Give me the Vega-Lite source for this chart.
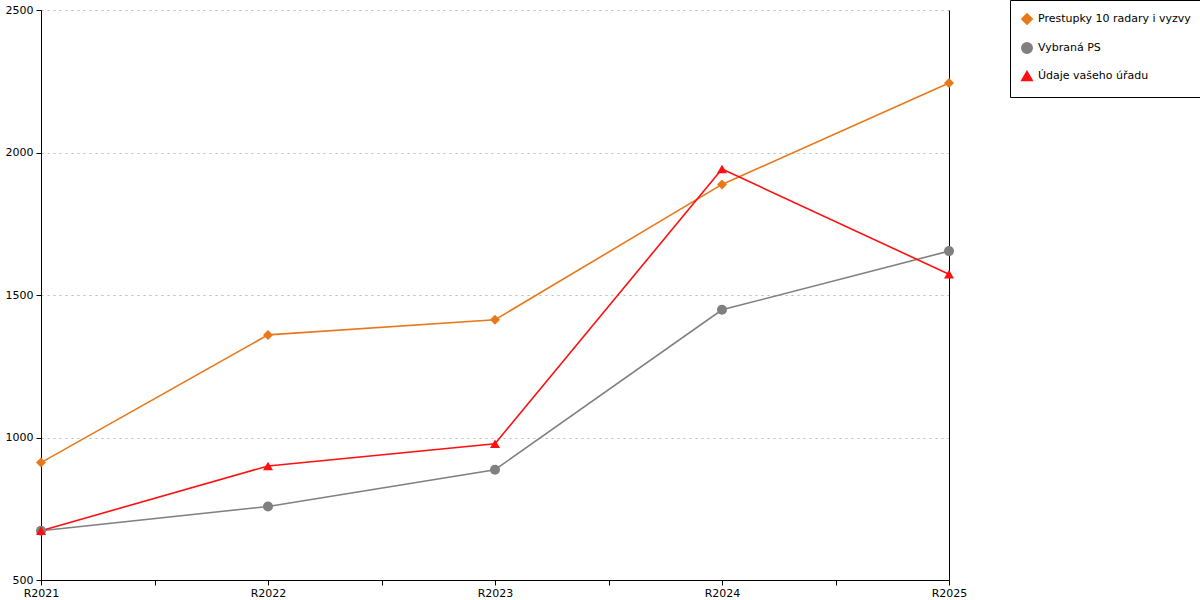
{
  "$schema": "https://vega.github.io/schema/vega-lite/v6.json",
  "autosize": "none",
  "padding": {"left": 41, "top": 10, "right": 251, "bottom": 20},
  "width": 908,
  "height": 570,
  "background": "white",
  "config": {
    "view": {"stroke": null},
    "font": "DejaVu Sans",
    "axis": {"labelFont": "DejaVu Sans", "labelFontSize": 11, "labelColor": "#000", "domainColor": "#000", "tickColor": "#000", "titleFontSize": 11}
  },
  "data": {
    "values": [
      {"rok": 2021, "serie": "Prestupky 10 radary i vyzvy", "hodnota": 912},
      {"rok": 2022, "serie": "Prestupky 10 radary i vyzvy", "hodnota": 1360},
      {"rok": 2023, "serie": "Prestupky 10 radary i vyzvy", "hodnota": 1413},
      {"rok": 2024, "serie": "Prestupky 10 radary i vyzvy", "hodnota": 1888},
      {"rok": 2025, "serie": "Prestupky 10 radary i vyzvy", "hodnota": 2244},
      {"rok": 2021, "serie": "Vybraná PS", "hodnota": 673},
      {"rok": 2022, "serie": "Vybraná PS", "hodnota": 758},
      {"rok": 2023, "serie": "Vybraná PS", "hodnota": 887},
      {"rok": 2024, "serie": "Vybraná PS", "hodnota": 1448},
      {"rok": 2025, "serie": "Vybraná PS", "hodnota": 1654},
      {"rok": 2021, "serie": "Údaje vašeho úřadu", "hodnota": 673},
      {"rok": 2022, "serie": "Údaje vašeho úřadu", "hodnota": 900},
      {"rok": 2023, "serie": "Údaje vašeho úřadu", "hodnota": 978},
      {"rok": 2024, "serie": "Údaje vašeho úřadu", "hodnota": 1942},
      {"rok": 2025, "serie": "Údaje vašeho úřadu", "hodnota": 1573}
    ]
  },
  "encoding": {
    "x": {
      "field": "rok", "type": "quantitative",
      "scale": {"domain": [2021, 2025], "nice": false, "zero": false},
      "axis": {
        "title": null, "grid": false,
        "values": [2021, 2021.5, 2022, 2022.5, 2023, 2023.5, 2024, 2024.5, 2025],
        "labelExpr": "datum.value % 1 == 0 ? 'R' + datum.value : ''",
        "tickSize": 5, "labelPadding": 2, "labelFlush": false
      }
    },
    "y": {
      "field": "hodnota", "type": "quantitative",
      "scale": {"domain": [500, 2500], "nice": false, "zero": false}
    },
    "color": {
      "field": "serie", "type": "nominal",
      "scale": {
        "domain": ["Prestupky 10 radary i vyzvy", "Vybraná PS", "Údaje vašeho úřadu"],
        "range": ["#E8781A", "#808080", "#FF1010"]
      },
      "legend": {
        "title": null, "orient": "none", "legendX": 969, "legendY": -10,
        "strokeColor": "#000", "fillColor": "#fff", "padding": 13,
        "labelFontSize": 11, "labelFont": "DejaVu Sans", "labelColor": "#000",
        "rowPadding": 11, "symbolSize": 110, "labelLimit": 300, "labelOffset": 5,
        "symbolOffset": -2
      }
    }
  },
  "layer": [
    {
      "mark": {"type": "line", "strokeWidth": 1.6},
      "encoding": {
        "y": {
          "field": "hodnota", "type": "quantitative",
          "axis": {
            "title": null, "values": [500, 1000, 1500, 2000, 2500], "format": "d",
            "grid": true, "gridDash": [2, 4], "gridColor": "#b8b8b8",
            "tickSize": 5, "labelPadding": 3
          }
        }
      }
    },
    {
      "mark": {"type": "point", "filled": true, "opacity": 1, "size": 100},
      "encoding": {
        "y": {
          "field": "hodnota", "type": "quantitative",
          "axis": {"orient": "right", "title": null, "labels": false, "ticks": false, "grid": false}
        },
        "shape": {
          "field": "serie", "type": "nominal",
          "scale": {
            "domain": ["Prestupky 10 radary i vyzvy", "Vybraná PS", "Údaje vašeho úřadu"],
            "range": ["diamond", "circle", "triangle-up"]
          }
        }
      }
    }
  ],
  "resolve": {"axis": {"y": "independent"}}
}
